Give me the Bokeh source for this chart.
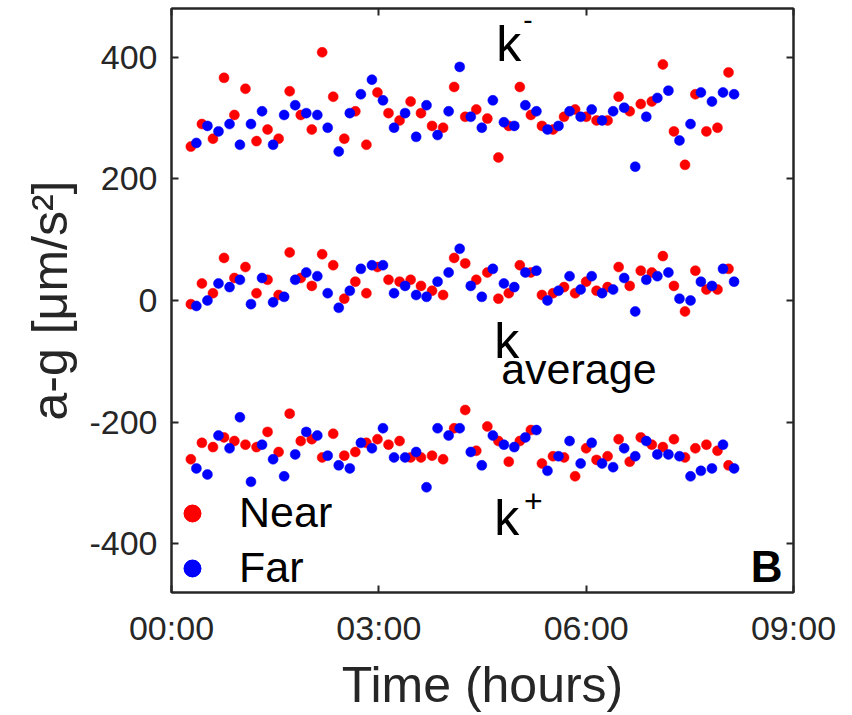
from bokeh.plotting import figure
from bokeh.models import (LinearAxis, FixedTicker, CustomJSTickFormatter, Legend,
                          LegendItem, Label, Range1d)
from bokeh.embed import file_html
from bokeh.resources import INLINE

# ---- data (hours, µm/s²) ----
t_near = [0.28, 0.44, 0.60, 0.76, 0.91, 1.07, 1.23, 1.39, 1.55, 1.71, 1.87, 2.03, 2.18,
          2.34, 2.50, 2.66, 2.82, 2.98, 3.14, 3.30, 3.46, 3.61, 3.77, 3.93, 4.09, 4.25,
          4.41, 4.57, 4.73, 4.88, 5.04, 5.20, 5.36, 5.52, 5.68, 5.84, 6.00, 6.15, 6.31,
          6.47, 6.63, 6.79, 6.95, 7.11, 7.27, 7.43, 7.58, 7.74, 7.90, 8.06]
t_far = [0.36, 0.52, 0.68, 0.84, 0.99, 1.15, 1.31, 1.47, 1.63, 1.79, 1.95, 2.11, 2.26,
         2.42, 2.58, 2.74, 2.90, 3.06, 3.22, 3.38, 3.54, 3.69, 3.85, 4.01, 4.17, 4.33,
         4.49, 4.65, 4.81, 4.96, 5.12, 5.28, 5.44, 5.60, 5.76, 5.92, 6.08, 6.23, 6.39,
         6.55, 6.71, 6.87, 7.03, 7.19, 7.35, 7.51, 7.66, 7.82, 7.98, 8.14]

near_kminus = [253, 290, 266, 366, 305, 348, 262, 281, 266, 344, 305, 281, 408, 335, 266,
               311, 256, 342, 308, 296, 327, 308, 287, 284, 351, 302, 314, 299, 235, 287,
               351, 305, 287, 281, 302, 314, 302, 296, 296, 335, 311, 323, 327, 388, 278,
               223, 339, 278, 284, 375]
far_kminus = [259, 287, 278, 290, 256, 290, 311, 256, 305, 321, 308, 305, 284, 245, 308,
              339, 363, 329, 284, 308, 269, 321, 272, 311, 384, 302, 284, 329, 293, 287,
              321, 311, 281, 287, 311, 302, 314, 296, 311, 317, 220, 302, 333, 345, 263,
              290, 342, 327, 342, 339]
near_kavg = [-6, 28, 12, 70, 37, 55, 12, 34, 9, 79, 37, 24, 76, 58, 3, 31, 12, 55, 34, 31,
             34, 24, 16, 9, 70, 61, 34, 46, 3, 12, 58, 46, 9, 12, 22, 12, 31, 16, 22, 55,
             24, 49, 46, 73, 24, -18, 49, 18, 18, 52]
far_kavg = [-9, 0, 28, 22, 34, -6, 37, -3, 6, 34, 46, 40, 12, -12, 16, 52, 58, 58, 12, 24,
            9, 6, 31, 46, 85, 24, 6, 52, 28, 22, 46, 49, 0, 16, 40, 18, 40, 12, 18, 37,
            -18, 34, 40, 46, 3, 0, 31, 24, 52, 31]
near_kplus = [-261, -234, -241, -225, -231, -237, -241, -216, -249, -186, -231, -228, -258,
              -219, -255, -249, -234, -228, -237, -231, -258, -258, -255, -261, -210, -180,
              -247, -207, -231, -265, -231, -213, -268, -256, -258, -289, -243, -262, -256,
              -228, -265, -225, -237, -241, -228, -258, -243, -237, -247, -271]
far_kplus = [-276, -286, -222, -243, -192, -298, -237, -261, -289, -253, -216, -222, -255,
             -271, -276, -234, -243, -210, -258, -258, -249, -307, -210, -222, -210, -249,
             -271, -222, -237, -241, -225, -213, -280, -256, -231, -268, -234, -268, -274,
             -243, -256, -231, -253, -253, -256, -289, -280, -276, -237, -276]

x_ticks = [0, 3, 6, 9]
y_ticks = [-400, -200, 0, 200, 400]
series_labels = ["Near", "Far"]

AX = "#262626"
FONT = "Liberation Sans"

p = figure(width=852, height=715, x_range=Range1d(0, 9), y_range=Range1d(-480, 480),
           output_backend="svg", toolbar_location=None,
           min_border_left=171, min_border_right=59, min_border_top=8,
           min_border_bottom=119)
p.grid.visible = False
p.outline_line_color = AX
p.outline_line_width = 2
p.background_fill_color = "white"
p.border_fill_color = "white"

xfmt = CustomJSTickFormatter(code="""
const h = Math.round(tick);
return (h < 10 ? '0' : '') + h + ':00';
""")
yfmt = CustomJSTickFormatter(code="return tick.toFixed(0);")


def style_axis(ax, labels=True):
    ax.axis_line_color = AX
    ax.axis_line_width = 2
    ax.major_tick_line_color = AX
    ax.major_tick_line_width = 2
    ax.major_tick_in = 7
    ax.major_tick_out = 0
    ax.minor_tick_line_color = None
    ax.major_label_text_font = FONT
    if labels:
        ax.major_label_text_color = AX
        ax.major_label_text_font_size = "34px"
    else:
        ax.major_label_text_color = None
        ax.major_label_text_font_size = "1px"
        ax.major_label_standoff = 0


p.xaxis.ticker = FixedTicker(ticks=x_ticks)
p.xaxis.formatter = xfmt
p.yaxis.ticker = FixedTicker(ticks=y_ticks)
p.yaxis.formatter = yfmt
style_axis(p.xaxis[0])
style_axis(p.yaxis[0])
p.xaxis.major_label_standoff = 16
p.yaxis.major_label_standoff = 14

p.xaxis.axis_label = "Time (hours)"
p.yaxis.axis_label = "a-g [\u03bcm/s\u00b2]"
for ax in (p.xaxis[0], p.yaxis[0]):
    ax.axis_label_text_font = FONT
    ax.axis_label_text_font_size = "50px"
    ax.axis_label_text_font_style = "normal"
    ax.axis_label_text_color = AX
p.xaxis.axis_label_standoff = 7
p.yaxis.axis_label_standoff = 8

rax = LinearAxis(ticker=FixedTicker(ticks=y_ticks), formatter=yfmt)
tax = LinearAxis(ticker=FixedTicker(ticks=x_ticks), formatter=xfmt)
style_axis(rax, labels=False)
style_axis(tax, labels=False)
p.add_layout(rax, "right")
p.add_layout(tax, "above")

RED = "#ff0000"
BLUE = "#0000ff"
SIZE = 10

near_r = [p.scatter(t_near, v, size=SIZE, fill_color=RED, line_color=RED, line_width=0.5)
          for v in (near_kminus, near_kavg, near_kplus)]
far_r = [p.scatter(t_far, v, size=SIZE, fill_color=BLUE, line_color=BLUE, line_width=0.5)
         for v in (far_kminus, far_kavg, far_kplus)]

legend = Legend(items=[LegendItem(label=series_labels[0], renderers=near_r),
                       LegendItem(label=series_labels[1], renderers=far_r)],
                location="bottom_left", border_line_color=None, background_fill_alpha=0,
                label_text_font=FONT, label_text_font_size="43px", label_text_color="black",
                glyph_width=42, glyph_height=46, label_height=46, spacing=6,
                padding=1, margin=0, label_standoff=26)
p.add_layout(legend)


def txt(x, y, s, size, style="normal", align="left"):
    p.add_layout(Label(x=x, y=y, text=s, text_font=FONT, text_font_size=size,
                       text_font_style=style, text_color="black",
                       text_baseline="alphabetic", text_align=align))


txt(4.70, 422, "k", "50px")
txt(5.09, 462, "-", "28px")
txt(4.67, -66, "k", "50px")
txt(4.77, -112, "average", "43px")
txt(4.67, -357, "k", "50px")
txt(5.10, -330, "+", "32px")
txt(8.84, -438, "B", "44px", style="bold", align="right")

open("out.html", "w").write(file_html(p, INLINE))
